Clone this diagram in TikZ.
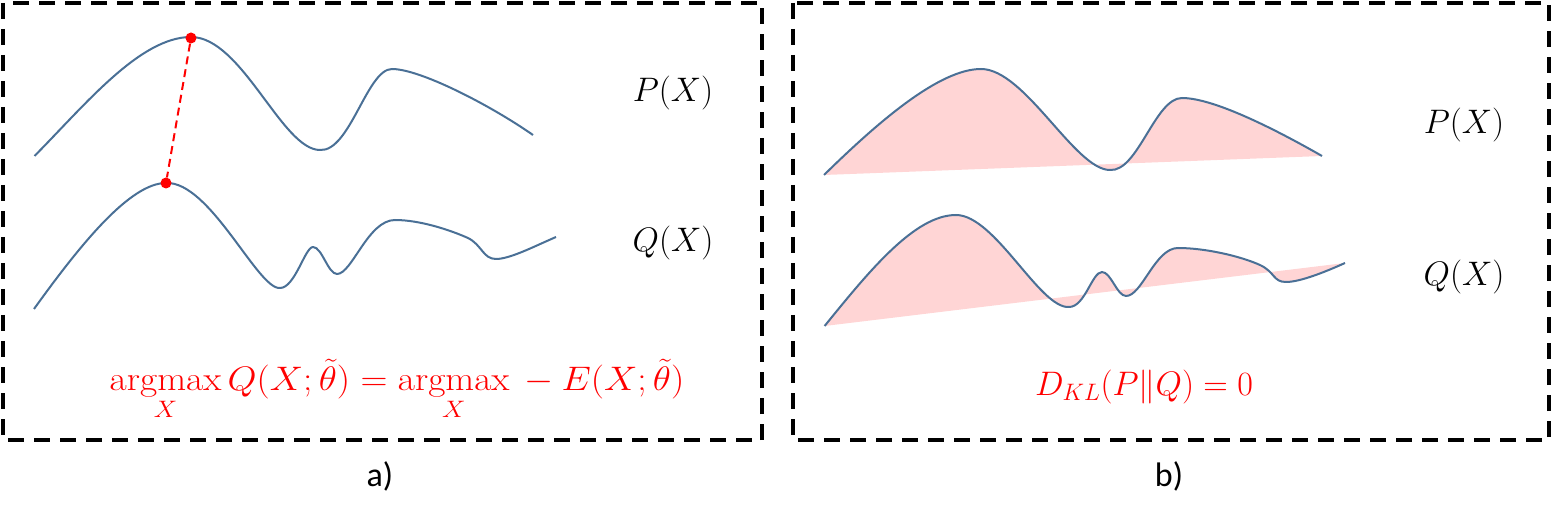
\RequirePackage{fix-cm}
\documentclass[tikz,border=0pt]{standalone}
\usepackage{amsmath}
\usepackage{graphicx}
\usepackage{fontspec}
\newfontfamily\calib{Carlito}
\definecolor{curveblue}{RGB}{74,112,150}
\definecolor{fillpink}{RGB}{255,213,213}
\begin{document}
\begin{tikzpicture}[x=1pt,y=-1pt,
  curve/.style={draw=curveblue, line width=2pt, line join=round},
  frame/.style={draw=black, line width=4pt, dash pattern=on 16pt off 10pt},
  dot/.style={circle, fill=red, inner sep=0pt, minimum size=11pt},
  reddash/.style={draw=red, line width=2pt, dash pattern=on 8pt off 5pt},
  lbl/.style={inner sep=0pt, font=\fontsize{34}{40}\selectfont},
  formula/.style={inner sep=0pt, text=red, font=\fontsize{34}{40}\selectfont},
  sublabel/.style={inner sep=0pt, font=\calib\fontsize{34}{40}\selectfont}
]
\useasboundingbox (0,0) rectangle (1552,526);

% frames
\draw[frame] (3,3) rectangle (762,440);
\draw[frame] (793,3) rectangle (1549,440);

% ---------- panel a ----------
\draw[curve] (34.5,156) .. controls (85,105) and (140,37) .. (191,37)
  .. controls (242,37) and (282,150) .. (320,150)
  .. controls (350,152) and (367,69) .. (392,69)
  .. controls (420,69) and (490,105) .. (533,135);
\draw[curve] (34,309) .. controls (80,245) and (130,183) .. (166,183)
  .. controls (210,181) and (258,290) .. (280,288)
  .. controls (295,288) and (305,247) .. (313,247)
  .. controls (322,247) and (328,274) .. (337,274)
  .. controls (352,274) and (368,220) .. (395,220)
  .. controls (420,220) and (450,230) .. (468,238)
  .. controls (482,245) and (483,259) .. (496,259)
  .. controls (510,259) and (535,246) .. (556,237);

\node[dot] (pa) at (191,38) {};
\node[dot] (qa) at (166,183) {};
\draw[reddash] (pa) -- (qa);

\node[lbl] (pxa) at (673,93.5) {$P(X)$};
\node[lbl] (qxa) at (673,243.5) {$Q(X)$};
\node[formula, anchor=base] (fa) at (397,390)
  {\scalebox{1.1}[1]{$\displaystyle \operatorname*{argmax}_{X} Q(X;\tilde{\theta}) = \operatorname*{argmax}_{X} {}- E(X;\tilde{\theta})$}};
\node[sublabel] (la) at (380,476) {a)};

% ---------- panel b ----------
\fill[fillpink] (824,175) .. controls (880,120) and (940,69) .. (981,69)
  .. controls (1025,69) and (1075,170) .. (1110,170)
  .. controls (1138,172) and (1155,98) .. (1182,98)
  .. controls (1215,98) and (1280,132) .. (1322,156) -- cycle;
\draw[curve] (824,175) .. controls (880,120) and (940,69) .. (981,69)
  .. controls (1025,69) and (1075,170) .. (1110,170)
  .. controls (1138,172) and (1155,98) .. (1182,98)
  .. controls (1215,98) and (1280,132) .. (1322,156);

\fill[fillpink] (824.6,326) .. controls (870,270) and (915,215) .. (956,215)
  .. controls (995,215) and (1040,309) .. (1069,307)
  .. controls (1085,307) and (1092,272) .. (1102,272)
  .. controls (1111,272) and (1117,296) .. (1126,296)
  .. controls (1142,296) and (1155,248) .. (1178,248)
  .. controls (1205,248) and (1240,256) .. (1260,265)
  .. controls (1275,272) and (1273,282) .. (1286,282)
  .. controls (1300,282) and (1325,272) .. (1345,263) -- cycle;
\draw[curve] (824.6,326) .. controls (870,270) and (915,215) .. (956,215)
  .. controls (995,215) and (1040,309) .. (1069,307)
  .. controls (1085,307) and (1092,272) .. (1102,272)
  .. controls (1111,272) and (1117,296) .. (1126,296)
  .. controls (1142,296) and (1155,248) .. (1178,248)
  .. controls (1205,248) and (1240,256) .. (1260,265)
  .. controls (1275,272) and (1273,282) .. (1286,282)
  .. controls (1300,282) and (1325,272) .. (1345,263);

\node[lbl] (pxb) at (1464,125.5) {$P(X)$};
\node[lbl] (qxb) at (1464,277.5) {$Q(X)$};
\node[formula, anchor=base] (fb) at (1144,395) {$D_{KL}(P\|Q)=0$};
\node[sublabel] (lb) at (1169,476) {b)};
\end{tikzpicture}
\end{document}
